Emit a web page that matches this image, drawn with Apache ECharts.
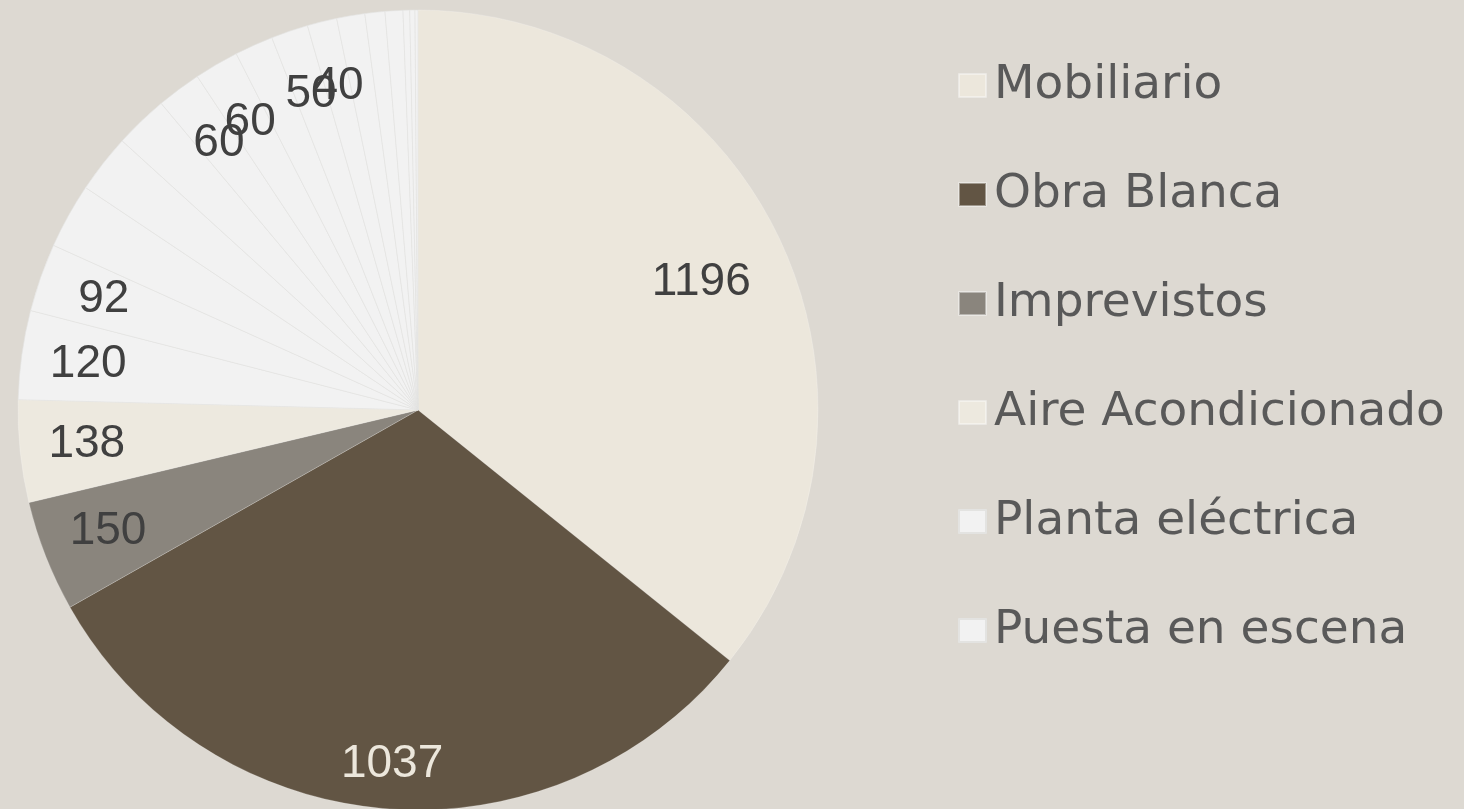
<!DOCTYPE html>
<html>
<head>
<meta charset="utf-8">
<title>Presupuesto</title>
<script src="https://cdn.jsdelivr.net/npm/echarts@6/dist/echarts.min.js"></script>
<style>
  html, body { margin: 0; padding: 0; background: #DDD9D2; }
  #chart { width: 1464px; height: 809px; }
</style>
</head>
<body>
<div id="chart"></div>
<script>
// partidas, sorted the same way as the original sheet (largest first)
const names = [
  'Mobiliario', 'Obra Blanca', 'Imprevistos', 'Aire Acondicionado',
  'Planta eléctrica', 'Puesta en escena',
  'Partida 7', 'Partida 8', 'Partida 9', 'Partida 10', 'Partida 11',
  'Partida 12', 'Partida 13', 'Partida 14', 'Partida 15', 'Partida 16',
  'Partida 17', 'Partida 18', 'Partida 19', 'Partida 20'
];
const values = [1196, 1037, 150, 138, 120, 92, 88, 79, 72, 60, 60, 52, 50, 40, 38, 27, 24, 9, 7, 4];
// which slices carry a value label in the original
const labelShown = [true, true, true, true, true, true, false, false, false, true, true, false, true, true, false, false, false, false, false, false];
const legendNames = names.slice(0, 6);

const sliceColors = ['#ECE7DC', '#625544', '#8A857D', '#EDE9DF'];
const restColor = '#F2F2F2';
// small nudges so the big labels sit where they do in the picture
const labelOffsets = { 0: [-17, 16], 1: [1, 22] };

const center = [418, 410];
const radius = 400;

const pieData = values.map((v, i) => ({
  name: names[i],
  value: v,
  itemStyle: {
    color: sliceColors[i] || restColor,
    borderColor: i >= 4 ? '#E3E3E1' : 'rgba(255,255,255,0.4)',
    borderWidth: i >= 4 ? 0.6 : 0.5
  }
}));

const labelData = values.map((v, i) => ({
  name: names[i],
  value: v,
  label: {
    show: labelShown[i],
    color: i === 1 ? '#ECE7DC' : '#404040',
    offset: labelOffsets[i] || [0, 0]
  }
}));

const chart = echarts.init(document.getElementById('chart'));
chart.setOption({
  backgroundColor: '#DDD9D2',
  animation: false,
  legend: {
    data: legendNames,
    orient: 'vertical',
    left: 953,
    top: 57,
    icon: 'rect',
    itemWidth: 27,
    itemHeight: 23,
    itemGap: 62,
    selectedMode: false,
    textStyle: {
      fontFamily: 'DejaVu Sans',
      fontSize: 47,
      lineHeight: 45,
      color: '#595959',
      padding: [0, 0, 0, 3]
    }
  },
  series: [
    {
      type: 'pie',
      center: center,
      radius: radius,
      startAngle: 90,
      clockwise: true,
      silent: true,
      label: { show: false },
      labelLine: { show: false },
      data: pieData
    },
    {
      // transparent ring that only carries the labels near the rim
      type: 'pie',
      center: center,
      radius: [260, radius],
      startAngle: 90,
      clockwise: true,
      silent: true,
      avoidLabelOverlap: false,
      labelLayout: { hideOverlap: false },
      itemStyle: { color: 'rgba(0,0,0,0)', borderWidth: 0 },
      label: {
        position: 'inside',
        formatter: '{c}',
        fontFamily: 'Liberation Sans',
        fontSize: 46
      },
      labelLine: { show: false },
      data: labelData
    }
  ]
});
</script>
</body>
</html>
